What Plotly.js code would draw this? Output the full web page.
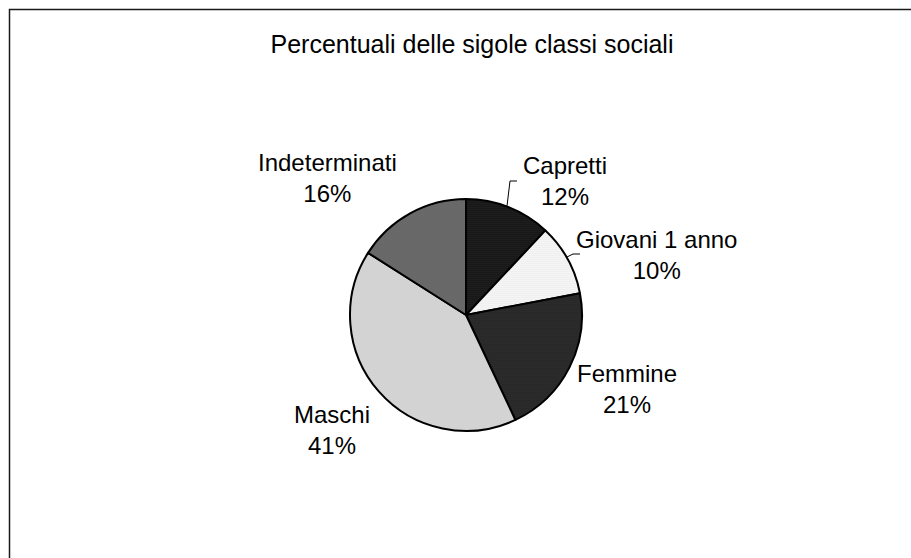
<!DOCTYPE html>
<html>
<head>
<meta charset="utf-8">
<script src="https://cdn.plot.ly/plotly-3.0.1.min.js"></script>
<style>
html,body{margin:0;padding:0;background:#fff;}
#chart{width:911px;height:558px;}
</style>
</head>
<body>
<div id="chart"></div>
<script>
// ---- data ----
const categories = ["Capretti", "Giovani 1 anno", "Femmine", "Maschi", "Indeterminati"];
const values = [12, 10, 21, 41, 16];
const titleText = "Percentuali delle sigole classi sociali";

// ---- styles ----
const bgColors = ["#0a0a0a", "#ffffff", "#202020", "#dadada", "#646464"];
const dotColors = ["#555555", "#c4c4c4", "#4a4a4a", "#bcbcbc", "#777777"];
const W = 911, H = 558;
const FONT = "Liberation Sans, Arial, sans-serif";
const px = x => x / W;
const py = y => 1 - y / H;

// pie geometry (pixels)
const cx = 466, cy = 315, r = 116;

// label placement (pixels, block centers)
const labelPos = [[565, 181], [656, 255], [627, 389], [332, 430], [327, 178]];

const total = values.reduce((a, b) => a + b, 0);
const annotations = categories.map((c, i) => ({
  text: c + "<br>" + Math.round(values[i] / total * 100) + "%",
  x: px(labelPos[i][0]), y: py(labelPos[i][1]),
  xref: "paper", yref: "paper", xanchor: "center", yanchor: "middle",
  showarrow: false, align: "center",
  font: {family: FONT, size: 24, color: "#000"}
}));

const shapes = [
  {type: "rect", xref: "paper", yref: "paper",
   x0: px(9.5), y0: py(9.5), x1: px(930), y1: py(580),
   line: {color: "#1a1a1a", width: 1.5}, fillcolor: "rgba(0,0,0,0)", layer: "below"},
  {type: "path", xref: "paper", yref: "paper",
   path: `M ${px(507)} ${py(206)} L ${px(510)} ${py(181)} L ${px(517)} ${py(181)}`,
   line: {color: "#000", width: 1}},
  {type: "path", xref: "paper", yref: "paper",
   path: `M ${px(567)} ${py(257)} L ${px(573)} ${py(254)} L ${px(580)} ${py(254)}`,
   line: {color: "#000", width: 1}}
];

const trace = {
  type: "pie",
  labels: categories,
  values: values,
  sort: false,
  direction: "clockwise",
  rotation: 0,
  textinfo: "none",
  hoverinfo: "label+percent",
  marker: {
    colors: bgColors,
    line: {color: "#000", width: 2},
    pattern: {shape: ".", fgcolor: dotColors, bgcolor: bgColors, size: 2, solidity: 0.25, fillmode: "replace"}
  },
  domain: {x: [px(cx - r), px(cx + r)], y: [py(cy + r), py(cy - r)]},
  showlegend: false
};

const layout = {
  width: W, height: H,
  margin: {l: 0, r: 0, t: 0, b: 0},
  paper_bgcolor: "#fff",
  title: {text: titleText, x: px(472), xanchor: "center", y: py(44), yanchor: "middle",
          xref: "paper", yref: "paper",
          font: {family: FONT, size: 25, color: "#000"}},
  annotations: annotations,
  shapes: shapes,
  showlegend: false
};

Plotly.newPlot("chart", [trace], layout, {displayModeBar: false, staticPlot: true});
</script>
</body>
</html>
